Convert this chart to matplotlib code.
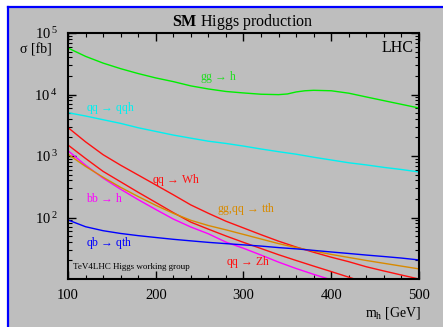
import math
import matplotlib
matplotlib.use("Agg")
import matplotlib.pyplot as plt
from matplotlib.patches import Rectangle
from matplotlib.lines import Line2D
from matplotlib.ticker import FixedLocator, FuncFormatter, LogLocator, NullFormatter

plt.rcParams["font.family"] = ["Liberation Serif", "DejaVu Serif"]
plt.rcParams["mathtext.fontset"] = "custom"
plt.rcParams["mathtext.rm"] = "Liberation Serif"
plt.rcParams["mathtext.it"] = "Liberation Serif:italic"
plt.rcParams["mathtext.bf"] = "Liberation Serif:bold"

# Higgs mass grid [GeV] and cross sections [fb]
mh = [100, 120, 140, 160, 180, 200, 220, 240, 260, 280, 300,
      320, 340, 360, 380, 400, 420, 440, 460, 480, 500]

mh_gg = [100, 120, 140, 160, 180, 200, 220, 240, 260, 280, 300, 320,
         340, 350, 360, 370, 380, 400, 420, 440, 460, 480, 500]
gg_h = [57000, 41700, 32400, 26300, 21900, 18600, 16200, 13800, 12300, 11200,
        10600, 10100, 9950, 10200, 11000, 11500, 11700, 11500, 10500, 9120,
        7940, 6920, 6030]

qq_qqh = [5060, 4470, 3890, 3390, 2880, 2510, 2190, 1950, 1740, 1600, 1450,
          1300, 1175, 1070, 955, 861, 776, 716, 653, 603, 550]

qq_wh = [2900, 1700, 1050, 708, 490, 339, 234, 160, 117, 87, 67.6,
         52.5, 41.2, 33.1, 27.2, 22.6, 19.1, 15.8, 13.5, 11.6, 10.0]

qq_zh = [1510, 912, 562, 380, 257, 176, 120, 84, 64.6, 50.1, 39.4,
         31.3, 24.8, 20.0, 16.2, 13.2, 10.7, 8.7, 7.2, 6.0, 5.0]

bb_h = [1220, 708, 437, 288, 195, 135, 94.4, 70, 54.3, 39.8, 31.6,
        24.5, 18.8, 14.8, 11.9, 9.7, 7.9, 6.6, 5.5, 4.7, 4.0]

tth = [1070, 676, 452, 309, 219, 158, 117, 90, 74, 63, 53.1,
       44.7, 37.6, 32.4, 28.5, 25.1, 22.4, 20.0, 18.0, 16.2, 14.6]

qb_qth = [91.2, 70.8, 61, 55, 50.7, 47.3, 44.2, 41.7, 39.4, 37.6, 35.9,
          34.3, 32.4, 30.9, 29.2, 27.5, 26.0, 24.5, 23.2, 21.9, 20.4]

grey = "#BEBEBE"
c_green = "#00EE00"
c_cyan = "#00F0F0"
c_red = "#FF1010"
c_mag = "#FF00FF"
c_orange = "#D88A00"
c_blue = "#0000FF"

W, H = 443, 327
fig = plt.figure(figsize=(W / 100, H / 100), dpi=100, facecolor="white")

# grey panel with blue frame on left/top (picture is cropped on the other sides)
x0, y0 = 8 / W, 1 - 6.5 / H
fig.add_artist(Rectangle((x0, 0), 1 - x0, y0, transform=fig.transFigure,
                         facecolor=grey, edgecolor="none", zorder=-5))
fig.add_artist(Line2D([x0, x0], [0, y0], transform=fig.transFigure,
                      color="#0000FF", lw=1.6, zorder=-4))
fig.add_artist(Line2D([x0, 1], [y0, y0], transform=fig.transFigure,
                      color="#0000FF", lw=1.6, zorder=-4))

ax = fig.add_axes([68 / W, 1 - 279 / H, 351 / W, 246 / H])
ax.set_facecolor(grey)

lw = 1.0
ax.plot(mh_gg, gg_h, color=c_green, lw=lw)
ax.plot(mh, qq_qqh, color=c_cyan, lw=lw)
ax.plot(mh, qq_wh, color=c_red, lw=lw)
ax.plot(mh, qq_zh, color=c_red, lw=lw)
ax.plot(mh, bb_h, color=c_mag, lw=lw)
ax.plot(mh, tth, color=c_orange, lw=lw)
ax.plot(mh, qb_qth, color=c_blue, lw=lw)

ax.set_yscale("log")
ax.set_xlim(100, 500)
ax.set_ylim(10, 1e5)

ax.xaxis.set_major_locator(FixedLocator([100, 200, 300, 400, 500]))
ax.xaxis.set_minor_locator(FixedLocator(range(100, 501, 20)))
ax.yaxis.set_major_locator(FixedLocator([1e2, 1e3, 1e4, 1e5]))
ax.yaxis.set_minor_locator(LogLocator(base=10, subs=range(2, 10)))
ax.yaxis.set_minor_formatter(NullFormatter())
ax.yaxis.set_major_formatter(FuncFormatter(
    lambda v, p: r"$\mathregular{10^{\;%d}}$" % round(math.log10(v))))

ax.tick_params(which="both", direction="in", top=True, right=True,
               colors="black", labelsize=10.5)
ax.tick_params(which="major", length=6, width=1.0, pad=7)
ax.tick_params(which="minor", length=3, width=0.8)
for s in ax.spines.values():
    s.set_linewidth(1.5)

fig.text(243 / W, 1 - 22 / H, r"$\mathbf{SM}$ Higgs production",
         ha="center", va="center", fontsize=11.5)
fig.text(52 / W, 1 - 50 / H, "σ [fb]", ha="right", va="center", fontsize=10)
fig.text(421 / W, 1 - 313 / H, r"m$_\mathregular{h}$ [GeV]", ha="right",
         va="center", fontsize=10)
ax.text(0.985, 0.94, "LHC", transform=ax.transAxes, ha="right", va="center",
        fontsize=11.5)
ax.text(0.015, 0.05, "TeV4LHC Higgs working group", transform=ax.transAxes,
        ha="left", va="center", fontsize=6.5)

fs = 8.5
arr = r"$\,\rightarrow\,$"
ax.text(250, 19300, "gg" + arr + "h", color="#22DD22", fontsize=fs, ha="left", va="center")
ax.text(120, 6030, "qq" + arr + "qqh", color=c_cyan, fontsize=fs, ha="left", va="center")
ax.text(196, 408, "qq" + arr + "Wh", color=c_red, fontsize=fs, ha="left", va="center")
ax.text(120, 200, "bb" + arr + "h", color=c_mag, fontsize=fs, ha="left", va="center")
ax.text(270, 137, "gg,qq" + arr + "tth", color=c_orange, fontsize=fs, ha="left", va="center")
ax.text(120, 38.5, "qb" + arr + "qth", color=c_blue, fontsize=fs, ha="left", va="center")
ax.text(280, 18.9, "qq" + arr + "Zh", color=c_red, fontsize=fs, ha="left", va="center")

fig.savefig("out.png", dpi=100, facecolor=fig.get_facecolor())
